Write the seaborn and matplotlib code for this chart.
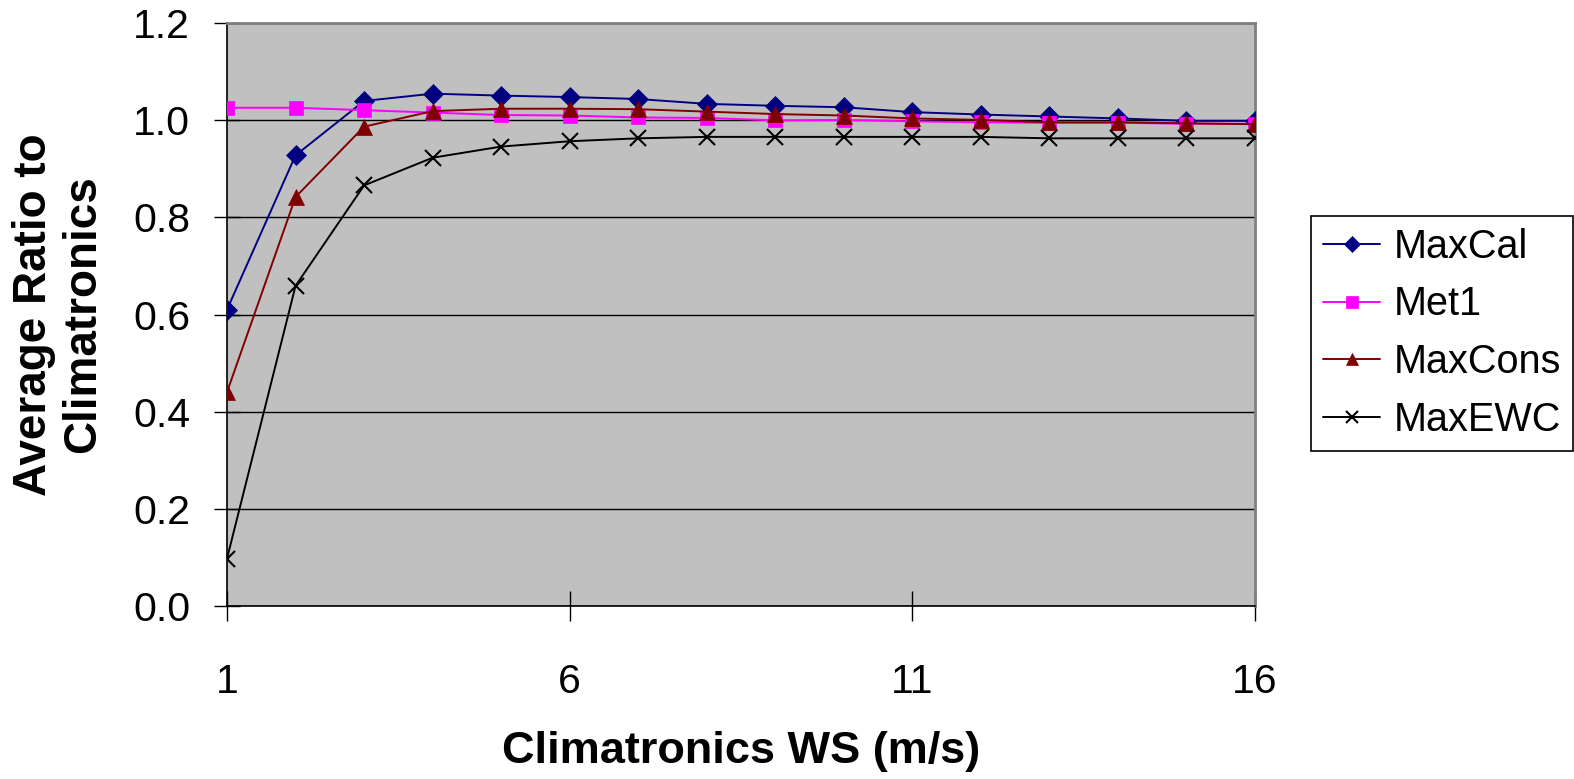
import numpy as np
import pandas as pd
import matplotlib
matplotlib.use("Agg")
import matplotlib.pyplot as plt
import seaborn as sns

ws = list(range(1, 17))
maxcal = [0.610, 0.928, 1.040, 1.055, 1.051, 1.048, 1.044, 1.034, 1.030, 1.027, 1.017, 1.012, 1.008, 1.004, 0.999, 0.999]
met1 = [1.026, 1.026, 1.021, 1.016, 1.011, 1.010, 1.006, 1.005, 1.000, 1.001, 0.998, 0.996, 0.995, 0.995, 0.993, 0.993]
maxcons = [0.440, 0.842, 0.987, 1.019, 1.024, 1.024, 1.023, 1.018, 1.013, 1.010, 1.004, 1.001, 0.996, 0.996, 0.994, 0.992]
maxewc = [0.097, 0.659, 0.866, 0.923, 0.946, 0.957, 0.963, 0.966, 0.966, 0.966, 0.966, 0.966, 0.963, 0.963, 0.963, 0.963]

series_names = ["MaxCal", "Met1", "MaxCons", "MaxEWC"]
series_values = [maxcal, met1, maxcons, maxewc]
colors = ["#000080", "#FF00FF", "#800000", "#000000"]
markers = ["D", "s", "^", "x"]
msizes = [10, 10, 11, 11]

df = pd.concat([pd.DataFrame({"ws": ws, "ratio": v, "series": n})
                for n, v in zip(series_names, series_values)], ignore_index=True)

sns.set_theme(style="white")
plt.rcParams["font.family"] = ["Liberation Sans", "DejaVu Sans"]
plt.rcParams["text.color"] = "black"
plt.rcParams["axes.labelcolor"] = "black"
plt.rcParams["xtick.color"] = "black"
plt.rcParams["ytick.color"] = "black"

fig = plt.figure(figsize=(15.74, 7.79), dpi=100)
ax = fig.add_axes([227 / 1574, 1 - 605.7 / 779, (1255 - 227) / 1574, (605.7 - 23.3) / 779])
ax.set_facecolor("#C0C0C0")

for name, col, mk, ms in zip(series_names, colors, markers, msizes):
    sub = df[df["series"] == name]
    sns.lineplot(data=sub, x="ws", y="ratio", ax=ax, color=col, marker=mk,
                 markersize=ms, markeredgecolor=col, markerfacecolor=col,
                 markeredgewidth=1.5 if mk == "x" else 0.5,
                 linewidth=1.4, label=name, zorder=3)

ax.set_xlim(1, 16)
ax.set_ylim(0, 1.2)
ax.set_xticks([1, 6, 11, 16])
ax.set_yticks(np.arange(0, 1.21, 0.2))
ax.set_yticklabels([f"{t:.1f}" for t in np.arange(0, 1.21, 0.2)])
ax.grid(axis="y", color="black", linewidth=1.0)
ax.grid(axis="x", visible=False)
ax.set_axisbelow(True)

ax.tick_params(axis="x", direction="inout", length=22, width=1, color="black",
               labelsize=29.5, pad=30, bottom=True, labelcolor="black")
ax.tick_params(axis="y", direction="inout", length=19, width=1, color="black",
               labelsize=29.5, pad=17, left=True, labelcolor="black")

for s in ["left", "bottom"]:
    ax.spines[s].set_color("black")
    ax.spines[s].set_linewidth(1.2)
for s in ["top", "right"]:
    ax.spines[s].set_color("#808080")
    ax.spines[s].set_linewidth(2)

ax.set_xlabel("Climatronics WS (m/s)", fontsize=32.5, fontweight="bold", labelpad=22,
              color="black")
ax.set_ylabel("Average Ratio to\nClimatronics", fontsize=33, fontweight="bold",
              labelpad=20, linespacing=1.17, color="black")

handles, labels = ax.get_legend_handles_labels()
if ax.get_legend():
    ax.get_legend().remove()
leg = fig.legend(handles, labels, loc="upper left",
                 bbox_to_anchor=(1311 / 1574, 1 - 215.7 / 779),
                 bbox_transform=fig.transFigure, fontsize=28.5, frameon=True,
                 fancybox=False, edgecolor="black", framealpha=1,
                 borderaxespad=0, markerscale=0.8, handlelength=1.45,
                 labelspacing=0.5, borderpad=0.3, handletextpad=0.35)
leg.get_frame().set_linewidth(1.2)
for t in leg.get_texts():
    t.set_color("black")

fig.savefig("out.png", dpi=100)
